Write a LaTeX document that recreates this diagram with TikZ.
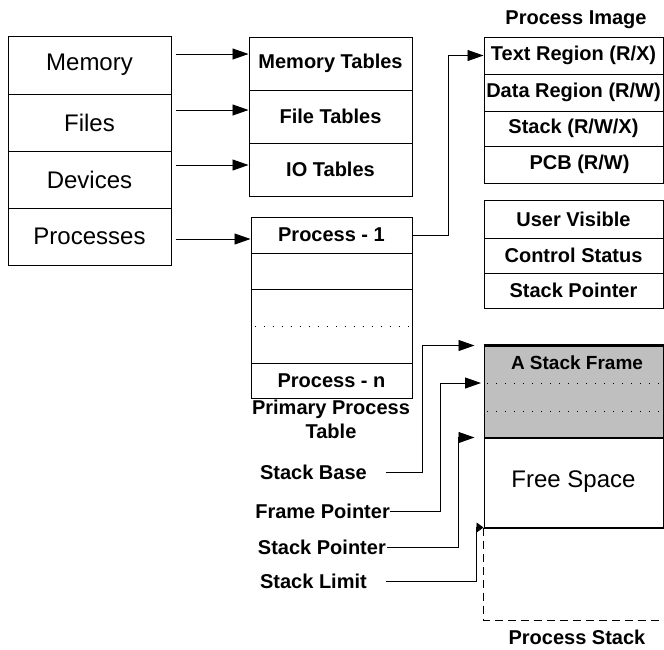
\documentclass[tikz,border=0pt]{standalone}
\usepackage{fontspec}
\setmainfont{Liberation Sans}
\usetikzlibrary{calc, positioning, arrows.meta}

\begin{document}
\begin{tikzpicture}[x=1pt, y=-1pt,
  cell/.style={draw, line width=1pt, minimum width=163pt, inner sep=0pt,
               font=\fontsize{24}{28}\selectfont},
  tab/.style={draw, line width=1pt, minimum width=161pt, inner sep=0pt,
              font=\bfseries\fontsize{20}{24}\selectfont},
  img/.style={draw, line width=1pt, minimum width=179pt, inner sep=0pt,
              font=\bfseries\fontsize{20}{24}\selectfont},
  lbl/.style={inner sep=0pt, font=\bfseries\fontsize{20}{24}\selectfont},
  arr/.style={-{Triangle[length=16pt,width=11pt]}, line width=0.9pt},
  dots/.style={line width=1pt, dash pattern=on 1pt off 8pt},
]
\useasboundingbox (0,0) rectangle (664,649);

% resources
\node[cell, minimum height=58pt] (mem)   at (89.5,65)    {Memory};
\node[cell, minimum height=57pt] (files) at (89.5,122.5) {Files};
\node[cell, minimum height=57pt] (dev)   at (89.5,179.5) {Devices};
\node[cell, minimum height=57pt] (procs) at (89.5,236.5) {Processes};

% tables
\node[tab, minimum width=163pt, minimum height=53pt] (memtab)  at (330.5,63.5)  {Memory Tables};
\node[tab, minimum width=163pt, minimum height=53pt] (filetab) at (330.5,116.5) {File Tables};
\node[tab, minimum width=163pt, minimum height=53pt] (iotab)   at (330.5,169.5) {IO Tables};

\node[tab, minimum height=36pt] (p1)    at (331.5,235) {Process - 1};
\node[tab, minimum height=36pt] (pnext) at (331.5,271) {};
\node[tab, minimum height=74pt] (pdots) at (331.5,326) {};
\node[tab, minimum height=35pt] (pn)    at (331.5,380.5) {Process - n};
\node[lbl, align=center] (ptlbl) at (331,419) {Primary Process\\Table};

% process image
\node[lbl] (imglbl) at (576,20) {Process Image};
\node[img, minimum height=37pt] (txt)  at (573.5,55.5)  {Text Region (R/X)};
\node[img, minimum height=37pt] (data) at (573.5,92.5)  {Data Region (R/W)};
\node[img, minimum height=35pt] (stk)  at (573.5,128.5) {Stack (R/W/X)};
\node[img, minimum height=37pt] (pcb)  at (573.5,164.5) {\hspace*{12pt}PCB (R/W)};

\node[img, minimum height=38pt] (uvis) at (573.5,219)   {User Visible};
\node[img, minimum height=35pt] (ctrl) at (573.5,255.5) {Control Status};
\node[img, minimum height=35pt] (sp)   at (573.5,290.5) {Stack Pointer};

% process stack
\node[draw, line width=1pt, fill=black!25, minimum width=179pt, minimum height=91pt] (frame) at (573.5,391.5) {};
\node[lbl, font=\bfseries\fontsize{19}{22}\selectfont] (frametxt) at (577,363) {A Stack Frame};
\node[draw, line width=1pt, minimum width=179pt, minimum height=90pt,
      font=\fontsize{24}{28}\selectfont] (free) at (573.5,482) {Free Space};
\node[lbl] (stacklbl) at (577,637) {Process Stack};

\coordinate (dotA) at (487,383);
\coordinate (dotB) at (487,411);
\draw[dots] (dotA) -- (dotA -| frame.east);
\draw[dots] (dotB) -- (dotB -| frame.east);
\draw[dots] ([xshift=4pt]pdots.west) -- ([xshift=-2pt]pdots.east);

\draw[line width=2.5pt] (frame.north west) -- (frame.north east);
\draw[line width=2pt] (frame.south west) -- (frame.south east);
\draw[line width=2pt] (free.south west) -- (free.south east);
\draw[line width=1pt, dash pattern=on 8pt off 5pt] (free.south west) -- ++(0,93) -- ++(181,0);

% pointers
\node[lbl, anchor=east] (sbase) at (367,472) {Stack Base};
\node[lbl, anchor=east] (fptr)  at (390,511) {Frame Pointer};
\node[lbl, anchor=east] (sptr)  at (386,547) {Stack Pointer};
\node[lbl, anchor=east] (slim)  at (367,581) {Stack Limit};

% connectors
\draw[arr] ($(mem.east)+(4,-11)$) coordinate (a1) -- (a1 -| memtab.west);
\draw[arr] ($(files.east)+(4,-12.5)$) coordinate (a2) -- (a2 -| filetab.west);
\draw[arr] ($(dev.east)+(4,-14.5)$) coordinate (a3) -- (a3 -| iotab.west);
\draw[arr] ($(procs.east)+(4,2.5)$) coordinate (a4) -- (a4 -| p1.west);
\draw[arr] (p1.east) -- ++(36,0) |- (txt.west);

\draw[arr] ([xshift=19pt]sbase.east) -- ++(36,0) |- ([xshift=-9pt]frame.north west);
\draw[arr] (fptr.east) -- ++(50,0) |- ([xshift=-6pt]dotA);
\draw[arr] ([xshift=1pt]sptr.east) -- ++(71,0) |- ([xshift=-9pt]frame.south west);
\draw[-{Triangle[length=7pt,width=10pt]}, line width=0.9pt]
  ([xshift=19pt]slim.east) -| ([xshift=-7pt]free.south west) -- (free.south west);
\end{tikzpicture}
\end{document}
